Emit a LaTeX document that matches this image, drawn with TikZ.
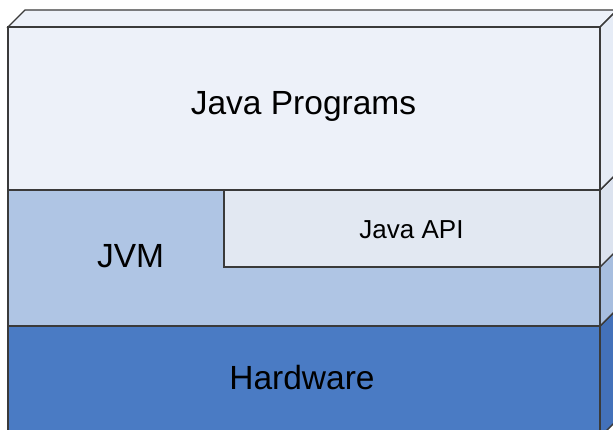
\documentclass[tikz,border=0pt]{standalone}
\usepackage{fontspec}
\setmainfont{Liberation Sans}
\definecolor{progF}{HTML}{EDF1F9}
\definecolor{progS}{HTML}{E6ECF6}
\definecolor{apiF}{HTML}{E2E8F2}
\definecolor{apiS}{HTML}{DCE3EF}
\definecolor{jvmF}{HTML}{AFC5E4}
\definecolor{jvmS}{HTML}{A7BEDF}
\definecolor{hwF}{HTML}{4A7BC4}
\definecolor{hwS}{HTML}{4371BA}
\definecolor{edge}{HTML}{3A3A3A}
\begin{document}
\begin{tikzpicture}[x=1pt,y=-1pt,
  face/.style={draw=edge,line width=1.4pt,line join=miter},
  big/.style={font=\fontsize{33.5}{38}\selectfont,text=black,inner sep=0pt},
  small/.style={font=\fontsize{26}{30}\selectfont,text=black,inner sep=0pt}]
\useasboundingbox (0,0) rectangle (613,429);
\clip (0,0) rectangle (613,429);
\fill[white] (0,0) rectangle (613,429);
% Hardware layer
\draw[face,fill=hwS] (600,326) -- (617,309) -- (617,420) -- (600,437) -- cycle;
\draw[face,fill=hwF] (8,326) rectangle (600,437);
% JVM layer
\draw[face,fill=jvmS] (600,190) -- (617,173) -- (617,309) -- (600,326) -- cycle;
\draw[face,fill=jvmF] (8,190) rectangle (600,326);
% Java API layer
\draw[face,fill=apiS] (600,190) -- (617,173) -- (617,250) -- (600,267) -- cycle;
\draw[face,fill=apiF] (224,190) rectangle (600,267);
% Java Programs layer
\draw[face,fill=progF] (8,27) -- (25,10) -- (617,10) -- (600,27) -- cycle;
\draw[face,fill=progS] (600,27) -- (617,10) -- (617,173) -- (600,190) -- cycle;
\draw[face,fill=progF] (8,27) rectangle (600,190);
% labels
\node[big] (prog) at (303.5,106) {Java Programs};
\node[small] (api) at (411.5,230) {Java API};
\node[big] (jvm) at (130.5,256) {JVM};
\node[big] (hw) at (302,378) {Hardware};
\end{tikzpicture}
\end{document}
